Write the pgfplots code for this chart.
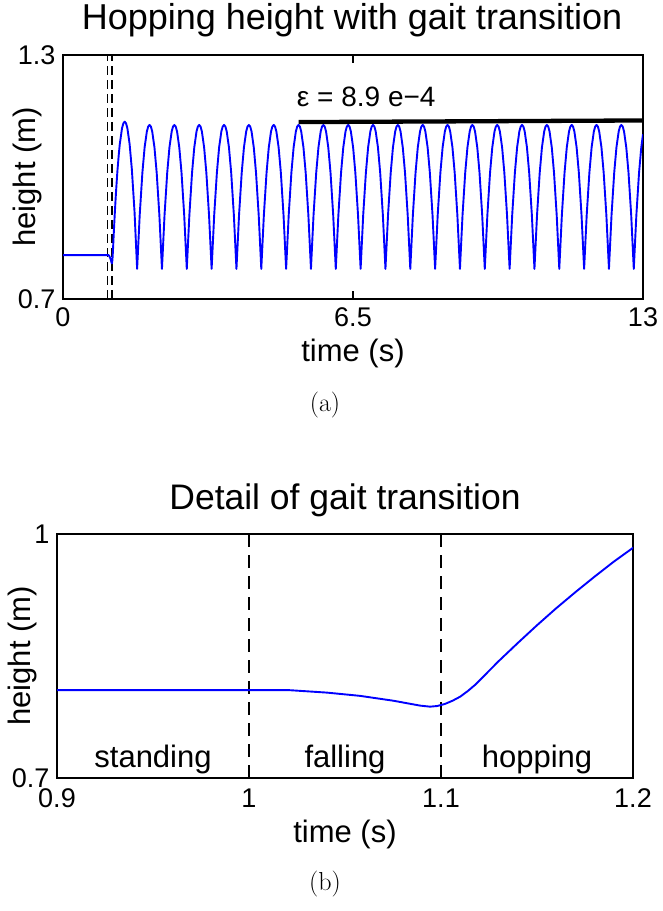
\documentclass[border=0pt]{standalone}
\usepackage{fontspec}
\usepackage{pgfplots}
\usepackage{pgfplotstable}
\pgfplotsset{compat=1.18}
\newfontfamily\hel{Liberation Sans}
\newcommand{\fs}[1]{\fontsize{#1bp}{#1bp}\selectfont}

\pgfplotstableread[row sep=\\]{
x y\\
0 0.808\\ 0.85 0.808\\ 0.9 0.808\\ 1.0 0.808\\ 1.021 0.808\\ 1.0405 0.805\\ 1.0578 0.801\\ 1.0752 0.795\\ 1.0891 0.789\\ 1.0943 0.7877\\ 1.098 0.7885\\ 1.102 0.791\\ 1.106 0.795\\ 1.110 0.800\\ 1.114 0.807\\ 1.118 0.815\\ 1.1203 0.8205\\ 1.13 0.8436\\ 1.14 0.866\\ 1.15 0.8878\\ 1.16 0.9087\\ 1.17 0.9285\\ 1.18 0.9476\\ 1.19 0.966\\ 1.2 0.983\\
1.22 1.015\\ 1.25 1.055\\ 1.273 1.081\\ 1.323 1.120\\ 1.353 1.132\\ 1.383 1.136\\ 1.413 1.132\\ 1.443 1.120\\ 1.493 1.081\\ 1.543 1.019\\ 1.603 0.915\\ 1.6613 0.774\\
1.7196 0.907\\ 1.7796 1.011\\ 1.8296 1.073\\ 1.8796 1.112\\ 1.9096 1.124\\ 1.9396 1.128\\ 1.9696 1.124\\ 1.9996 1.112\\ 2.0496 1.073\\ 2.0996 1.011\\ 2.1596 0.907\\ 2.2179 0.774\\
2.2762 0.907\\ 2.3362 1.011\\ 2.3862 1.073\\ 2.4362 1.112\\ 2.4662 1.124\\ 2.4962 1.128\\ 2.5262 1.124\\ 2.5562 1.112\\ 2.6062 1.073\\ 2.6562 1.011\\ 2.7162 0.907\\ 2.7745 0.774\\
2.8328 0.907\\ 2.8928 1.011\\ 2.9428 1.073\\ 2.9928 1.112\\ 3.0228 1.124\\ 3.0528 1.128\\ 3.0828 1.124\\ 3.1128 1.112\\ 3.1628 1.073\\ 3.2128 1.011\\ 3.2728 0.907\\ 3.3311 0.774\\
3.3894 0.907\\ 3.4494 1.011\\ 3.4994 1.073\\ 3.5494 1.112\\ 3.5794 1.124\\ 3.6094 1.128\\ 3.6394 1.124\\ 3.6694 1.112\\ 3.7194 1.073\\ 3.7694 1.011\\ 3.8294 0.907\\ 3.8877 0.774\\
3.946 0.907\\ 4.006 1.011\\ 4.056 1.073\\ 4.106 1.112\\ 4.136 1.124\\ 4.166 1.128\\ 4.196 1.124\\ 4.226 1.112\\ 4.276 1.073\\ 4.326 1.011\\ 4.386 0.907\\ 4.4443 0.774\\
4.5026 0.907\\ 4.5626 1.011\\ 4.6126 1.073\\ 4.6626 1.112\\ 4.6926 1.124\\ 4.7226 1.128\\ 4.7526 1.124\\ 4.7826 1.112\\ 4.8326 1.073\\ 4.8826 1.011\\ 4.9426 0.907\\ 5.0009 0.774\\
5.0592 0.907\\ 5.1192 1.011\\ 5.1692 1.073\\ 5.2192 1.112\\ 5.2492 1.124\\ 5.2792 1.128\\ 5.3092 1.124\\ 5.3392 1.112\\ 5.3892 1.073\\ 5.4392 1.011\\ 5.4992 0.907\\ 5.5575 0.774\\
5.6158 0.907\\ 5.6758 1.011\\ 5.7258 1.073\\ 5.7758 1.112\\ 5.8058 1.124\\ 5.8358 1.128\\ 5.8658 1.124\\ 5.8958 1.112\\ 5.9458 1.073\\ 5.9958 1.011\\ 6.0558 0.907\\ 6.1141 0.774\\
6.1724 0.907\\ 6.2324 1.011\\ 6.2824 1.073\\ 6.3324 1.112\\ 6.3624 1.124\\ 6.3924 1.128\\ 6.4224 1.124\\ 6.4524 1.112\\ 6.5024 1.073\\ 6.5524 1.011\\ 6.6124 0.907\\ 6.6707 0.774\\
6.729 0.907\\ 6.789 1.011\\ 6.839 1.073\\ 6.889 1.112\\ 6.919 1.124\\ 6.949 1.128\\ 6.979 1.124\\ 7.009 1.112\\ 7.059 1.073\\ 7.109 1.011\\ 7.169 0.907\\ 7.2273 0.774\\
7.2856 0.907\\ 7.3456 1.011\\ 7.3956 1.073\\ 7.4456 1.112\\ 7.4756 1.124\\ 7.5056 1.128\\ 7.5356 1.124\\ 7.5656 1.112\\ 7.6156 1.073\\ 7.6656 1.011\\ 7.7256 0.907\\ 7.7839 0.774\\
7.8422 0.907\\ 7.9022 1.011\\ 7.9522 1.073\\ 8.0022 1.112\\ 8.0322 1.124\\ 8.0622 1.128\\ 8.0922 1.124\\ 8.1222 1.112\\ 8.1722 1.073\\ 8.2222 1.011\\ 8.2822 0.907\\ 8.3405 0.774\\
8.3988 0.907\\ 8.4588 1.011\\ 8.5088 1.073\\ 8.5588 1.112\\ 8.5888 1.124\\ 8.6188 1.128\\ 8.6488 1.124\\ 8.6788 1.112\\ 8.7288 1.073\\ 8.7788 1.011\\ 8.8388 0.907\\ 8.8971 0.774\\
8.9554 0.907\\ 9.0154 1.011\\ 9.0654 1.073\\ 9.1154 1.112\\ 9.1454 1.124\\ 9.1754 1.128\\ 9.2054 1.124\\ 9.2354 1.112\\ 9.2854 1.073\\ 9.3354 1.011\\ 9.3954 0.907\\ 9.4537 0.774\\
9.512 0.907\\ 9.572 1.011\\ 9.622 1.073\\ 9.672 1.112\\ 9.702 1.124\\ 9.732 1.128\\ 9.762 1.124\\ 9.792 1.112\\ 9.842 1.073\\ 9.892 1.011\\ 9.952 0.907\\ 10.0103 0.774\\
10.0686 0.907\\ 10.1286 1.011\\ 10.1786 1.073\\ 10.2286 1.112\\ 10.2586 1.124\\ 10.2886 1.128\\ 10.3186 1.124\\ 10.3486 1.112\\ 10.3986 1.073\\ 10.4486 1.011\\ 10.5086 0.907\\ 10.5669 0.774\\
10.6252 0.907\\ 10.6852 1.011\\ 10.7352 1.073\\ 10.7852 1.112\\ 10.8152 1.124\\ 10.8452 1.128\\ 10.8752 1.124\\ 10.9052 1.112\\ 10.9552 1.073\\ 11.0052 1.011\\ 11.0652 0.907\\ 11.1235 0.774\\
11.1818 0.907\\ 11.2418 1.011\\ 11.2918 1.073\\ 11.3418 1.112\\ 11.3718 1.124\\ 11.4018 1.128\\ 11.4318 1.124\\ 11.4618 1.112\\ 11.5118 1.073\\ 11.5618 1.011\\ 11.6218 0.907\\ 11.6801 0.774\\
11.7384 0.907\\ 11.7984 1.011\\ 11.8484 1.073\\ 11.8984 1.112\\ 11.9284 1.124\\ 11.9584 1.128\\ 11.9884 1.124\\ 12.0184 1.112\\ 12.0684 1.073\\ 12.1184 1.011\\ 12.1784 0.907\\ 12.2367 0.774\\
12.295 0.907\\ 12.355 1.011\\ 12.405 1.073\\ 12.455 1.112\\ 12.485 1.124\\ 12.515 1.128\\ 12.545 1.124\\ 12.575 1.112\\ 12.625 1.073\\ 12.675 1.011\\ 12.735 0.907\\ 12.7933 0.774\\
12.8516 0.907\\ 12.9116 1.011\\ 12.9616 1.073\\ 13.0 1.105\\
}\hop

\pgfplotsset{
  mystyle/.style={
    scale only axis, anchor=south west,
    axis line style={line width=1.2bp},
    every tick/.style={black, line width=1.2bp},
    major tick length=8bp,
    tick align=inside, tick pos=both,
    ticklabel style={font=\hel\fs{27}},
    xticklabel style={yshift=-5bp},
    yticklabel style={xshift=-4bp},
    /pgf/number format/assume math mode=true,
  },
}

\begin{document}
\begin{tikzpicture}
\path[use as bounding box] (0,0) rectangle (663bp,911bp);

\begin{axis}[mystyle, at={(63bp,612bp)}, width=580bp, height=244bp,
  xmin=0, xmax=13, ymin=0.7, ymax=1.3,
  xtick={0,6.5,13}, xticklabels={0,6.5,13},
  ytick={0.7,1.3}, yticklabels={0.7,1.3}]
\addplot[black, line width=1.6bp, dash pattern=on 9bp off 5bp] coordinates {(1,0.7) (1,1.3)};
\addplot[black, line width=1.6bp, dash pattern=on 9bp off 5bp] coordinates {(1.1,0.7) (1.1,1.3)};
\addplot[blue, line width=1.9bp, line join=round] table[x=x,y=y] {\hop};
\addplot[black, line width=4.3bp] coordinates {(5.28,1.135) (13,1.139)};
\node[anchor=west, font=\hel\fs{28}, inner sep=0pt] at (axis cs:5.24,1.197) {ε = 8.9 e−4};
\end{axis}

\node[font=\hel\fs{36}, inner sep=0pt] at (352bp,891bp) {Hopping height with gait transition};
\node[font=\hel\fs{31}] at (353bp,558bp) {time (s)};
\node[font=\hel\fs{31}, rotate=90] at (27bp,734bp) {height (m)};
\node[font=\fs{26}] at (325bp,506bp) {(a)};

\begin{axis}[mystyle, at={(57bp,133bp)}, width=576bp, height=244bp,
  xmin=0.9, xmax=1.2, ymin=0.7, ymax=1,
  xtick={0.9,1,1.1,1.2}, xticklabels={0.9,1,1.1,1.2},
  xticklabel style={yshift=-2bp},
  ytick={0.7,1}, yticklabels={0.7,1}]
\addplot[black, line width=1.4bp, dash pattern=on 13bp off 8bp] coordinates {(1,0.7) (1,1)};
\addplot[black, line width=1.4bp, dash pattern=on 13bp off 8bp] coordinates {(1.1,0.7) (1.1,1)};
\addplot[blue, line width=1.9bp, line join=round, restrict x to domain=0.85:1.25] table[x=x,y=y] {\hop};
\node[anchor=base, font=\hel\fs{31}] at (axis cs:0.95,0.7135) {standing};
\node[anchor=base, font=\hel\fs{31}] at (axis cs:1.05,0.7135) {falling};
\node[anchor=base, font=\hel\fs{31}] at (axis cs:1.15,0.7135) {hopping};
\end{axis}

\node[font=\hel\fs{35.5}] at (345bp,411bp) {Detail of gait transition};
\node[font=\hel\fs{31}] at (345bp,77bp) {time (s)};
\node[font=\hel\fs{31}, rotate=90] at (22bp,255bp) {height (m)};
\node[font=\fs{26}] at (325bp,27bp) {(b)};
\end{tikzpicture}
\end{document}
